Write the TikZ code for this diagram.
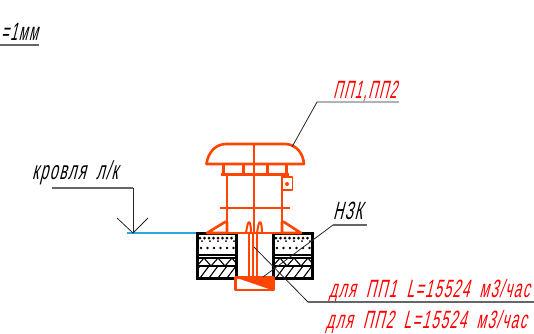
\documentclass[tikz,border=0pt]{standalone}
\usepackage{fontspec}
\newfontfamily\cadfont[FakeSlant=0.25,FakeStretch=0.51,LetterSpace=6,WordSpace=1.9]{Liberation Sans}
\newfontfamily\cadwide[FakeSlant=0.25,FakeStretch=0.55,LetterSpace=6,WordSpace=1.9]{Liberation Sans}
\definecolor{hoodred}{RGB}{255,69,0}
\definecolor{roofblue}{RGB}{40,170,225}
\tikzset{
    hood/.style={draw=hoodred,line width=2.6pt,line join=round},
    thinhood/.style={draw=hoodred,line width=1.3pt},
    leader/.style={draw=black!85,line width=0.8pt},
    shelf/.style={draw=black!60,line width=1.4pt},
    redtext/.style={text=red,font=\cadfont\fontsize{25}{25}\selectfont,inner sep=0pt,anchor=base west},
    blacktext/.style={text=black,font=\cadfont\fontsize{25}{25}\selectfont,inner sep=0pt,anchor=base west},
    widetext/.style={font=\cadwide\fontsize{25}{25}\selectfont}
}
\begin{document}
\begin{tikzpicture}[x=1pt,y=-1pt]
    \useasboundingbox (0,0) rectangle (534,333);
    %roof
    \draw[draw=roofblue,line width=1.3pt] (127,233) -- (199,233);
    %insulation
    \foreach \bx in {197,273} {
        \begin{scope}[shift={(\bx,0)}]
            \clip (0,233) rectangle (39,278);
            \foreach \dx in {3,7.5,...,38} \fill (\dx,238) circle (1.5pt);
            \foreach \dx in {5,13,...,38} \fill (\dx,241) circle (1pt);
            \foreach \dx in {4,10.5,...,38} \fill (\dx,248) circle (1.4pt);
            \draw[line width=1.1pt] (0,255) -- (39,255) (0,258) -- (39,258) (0,266) -- (39,266);
            \draw[line width=1.1pt] (0,266) -- (7,258) -- (14,266) -- (21,258) -- (28,266) -- (35,258) -- (39,263);
            \foreach \dx in {-6,3,...,39} \draw[line width=1.1pt] (\dx,278) -- (\dx+9,266);
        \end{scope}
        \draw[line width=3pt] (\bx,233) rectangle (\bx+39,278);
    }
    %duct
    \draw[thinhood,line width=1.8pt] (249,233) -- (249,277) (253,233) -- (253,277) (257,233) -- (257,277);
    \draw[hood,line width=2pt] (246,233) .. controls (247,226) and (248,222) .. (249,222) .. controls (250,222) and (251,226) .. (251,233);
    \draw[hood,line width=2pt] (257,233) .. controls (258,226) and (259,222) .. (260,222) .. controls (261,222) and (262,226) .. (262,233);
    %damper
    \draw[hood,fill=white] (235.5,277.5) rectangle (273.5,290);
    \fill[hoodred] (235.5,277.5) -- (273.5,277.5) -- (273.5,290) -- (269,289) -- cycle;
    %base
    \draw[hood,fill=white] (207,233) -- (225,222) -- (227,222) -- (227,233) -- cycle;
    \draw[hood,fill=white] (301,233) -- (284,222) -- (282,222) -- (282,233) -- cycle;
    \draw[hood] (207,233) -- (301,233);
    %body
    \draw[hood] (227,174) -- (227,233) (282,174) -- (282,233);
    \draw[hood] (220,208) -- (290,208);
    \draw[hood] (221,174.5) -- (289,174.5);
    \draw[hood,line width=1.8pt,fill=white] (282,177) rectangle (292.5,190);
    \fill[hoodred] (287,184) circle (2pt);
    %collar
    \draw[hood,line width=3pt] (223.5,164) -- (223.5,174) (243,164) -- (243,174) (267,164) -- (267,174) (286,164) -- (286,174);
    %hood
    \draw[hood] (206.5,164) .. controls (208,152) and (216,144) .. (226,144) -- (285,144) .. controls (295,144) and (303,152) .. (304,164) -- cycle;
    \draw[thinhood] (254,144) -- (254,233);
    %leaders
    \node[redtext] (ppname) at (333,98) {ПП1,ПП2};
    \node[blacktext,widetext] (nzk) at (333,219) {НЗК};
    \node[blacktext,widetext,font=\cadwide\fontsize{26}{26}\selectfont] (roofname) at (32,179) {кровля л/к};
    \node[redtext,widetext] (flowa) at (329,297) {для ПП1 L=15524 м3/час};
    \node[redtext,widetext] (flowb) at (326,328) {для ПП2 L=15524 м3/час};
    \node[blacktext] (scale) at (1,40) {=1мм};
    \coordinate (ppa) at (292,147);
    \coordinate (ppb) at (317,102);
    \coordinate (ppc) at (399,102);
    \draw[leader] (ppa) -- (ppb) -- (ppc);
    \coordinate (nza) at (263,277);
    \coordinate (nzb) at (333,225);
    \coordinate (nzc) at (367,225);
    \draw[leader] (nza) -- (nzb);
    \draw[shelf] (nzb) -- (nzc);
    \coordinate (fla) at (254,247);
    \coordinate (flb) at (308,302);
    \coordinate (flc) at (534,302);
    \draw[leader] (fla) -- (flb);
    \draw[shelf] (flb) -- (flc);
    \coordinate (rfa) at (52,188);
    \coordinate (rfb) at (133,188);
    \coordinate (rfc) at (133,233);
    \draw[shelf] (rfa) -- (rfb);
    \draw[leader] (rfb) -- (rfc);
    \coordinate (tka) at (117,218);
    \coordinate (tkb) at (148,218);
    \draw[leader] (tka) -- (rfc) -- (tkb);
    \coordinate (sca) at (0,45);
    \coordinate (scb) at (39,45);
    \draw[shelf] (sca) -- (scb);
\end{tikzpicture}
\end{document}
